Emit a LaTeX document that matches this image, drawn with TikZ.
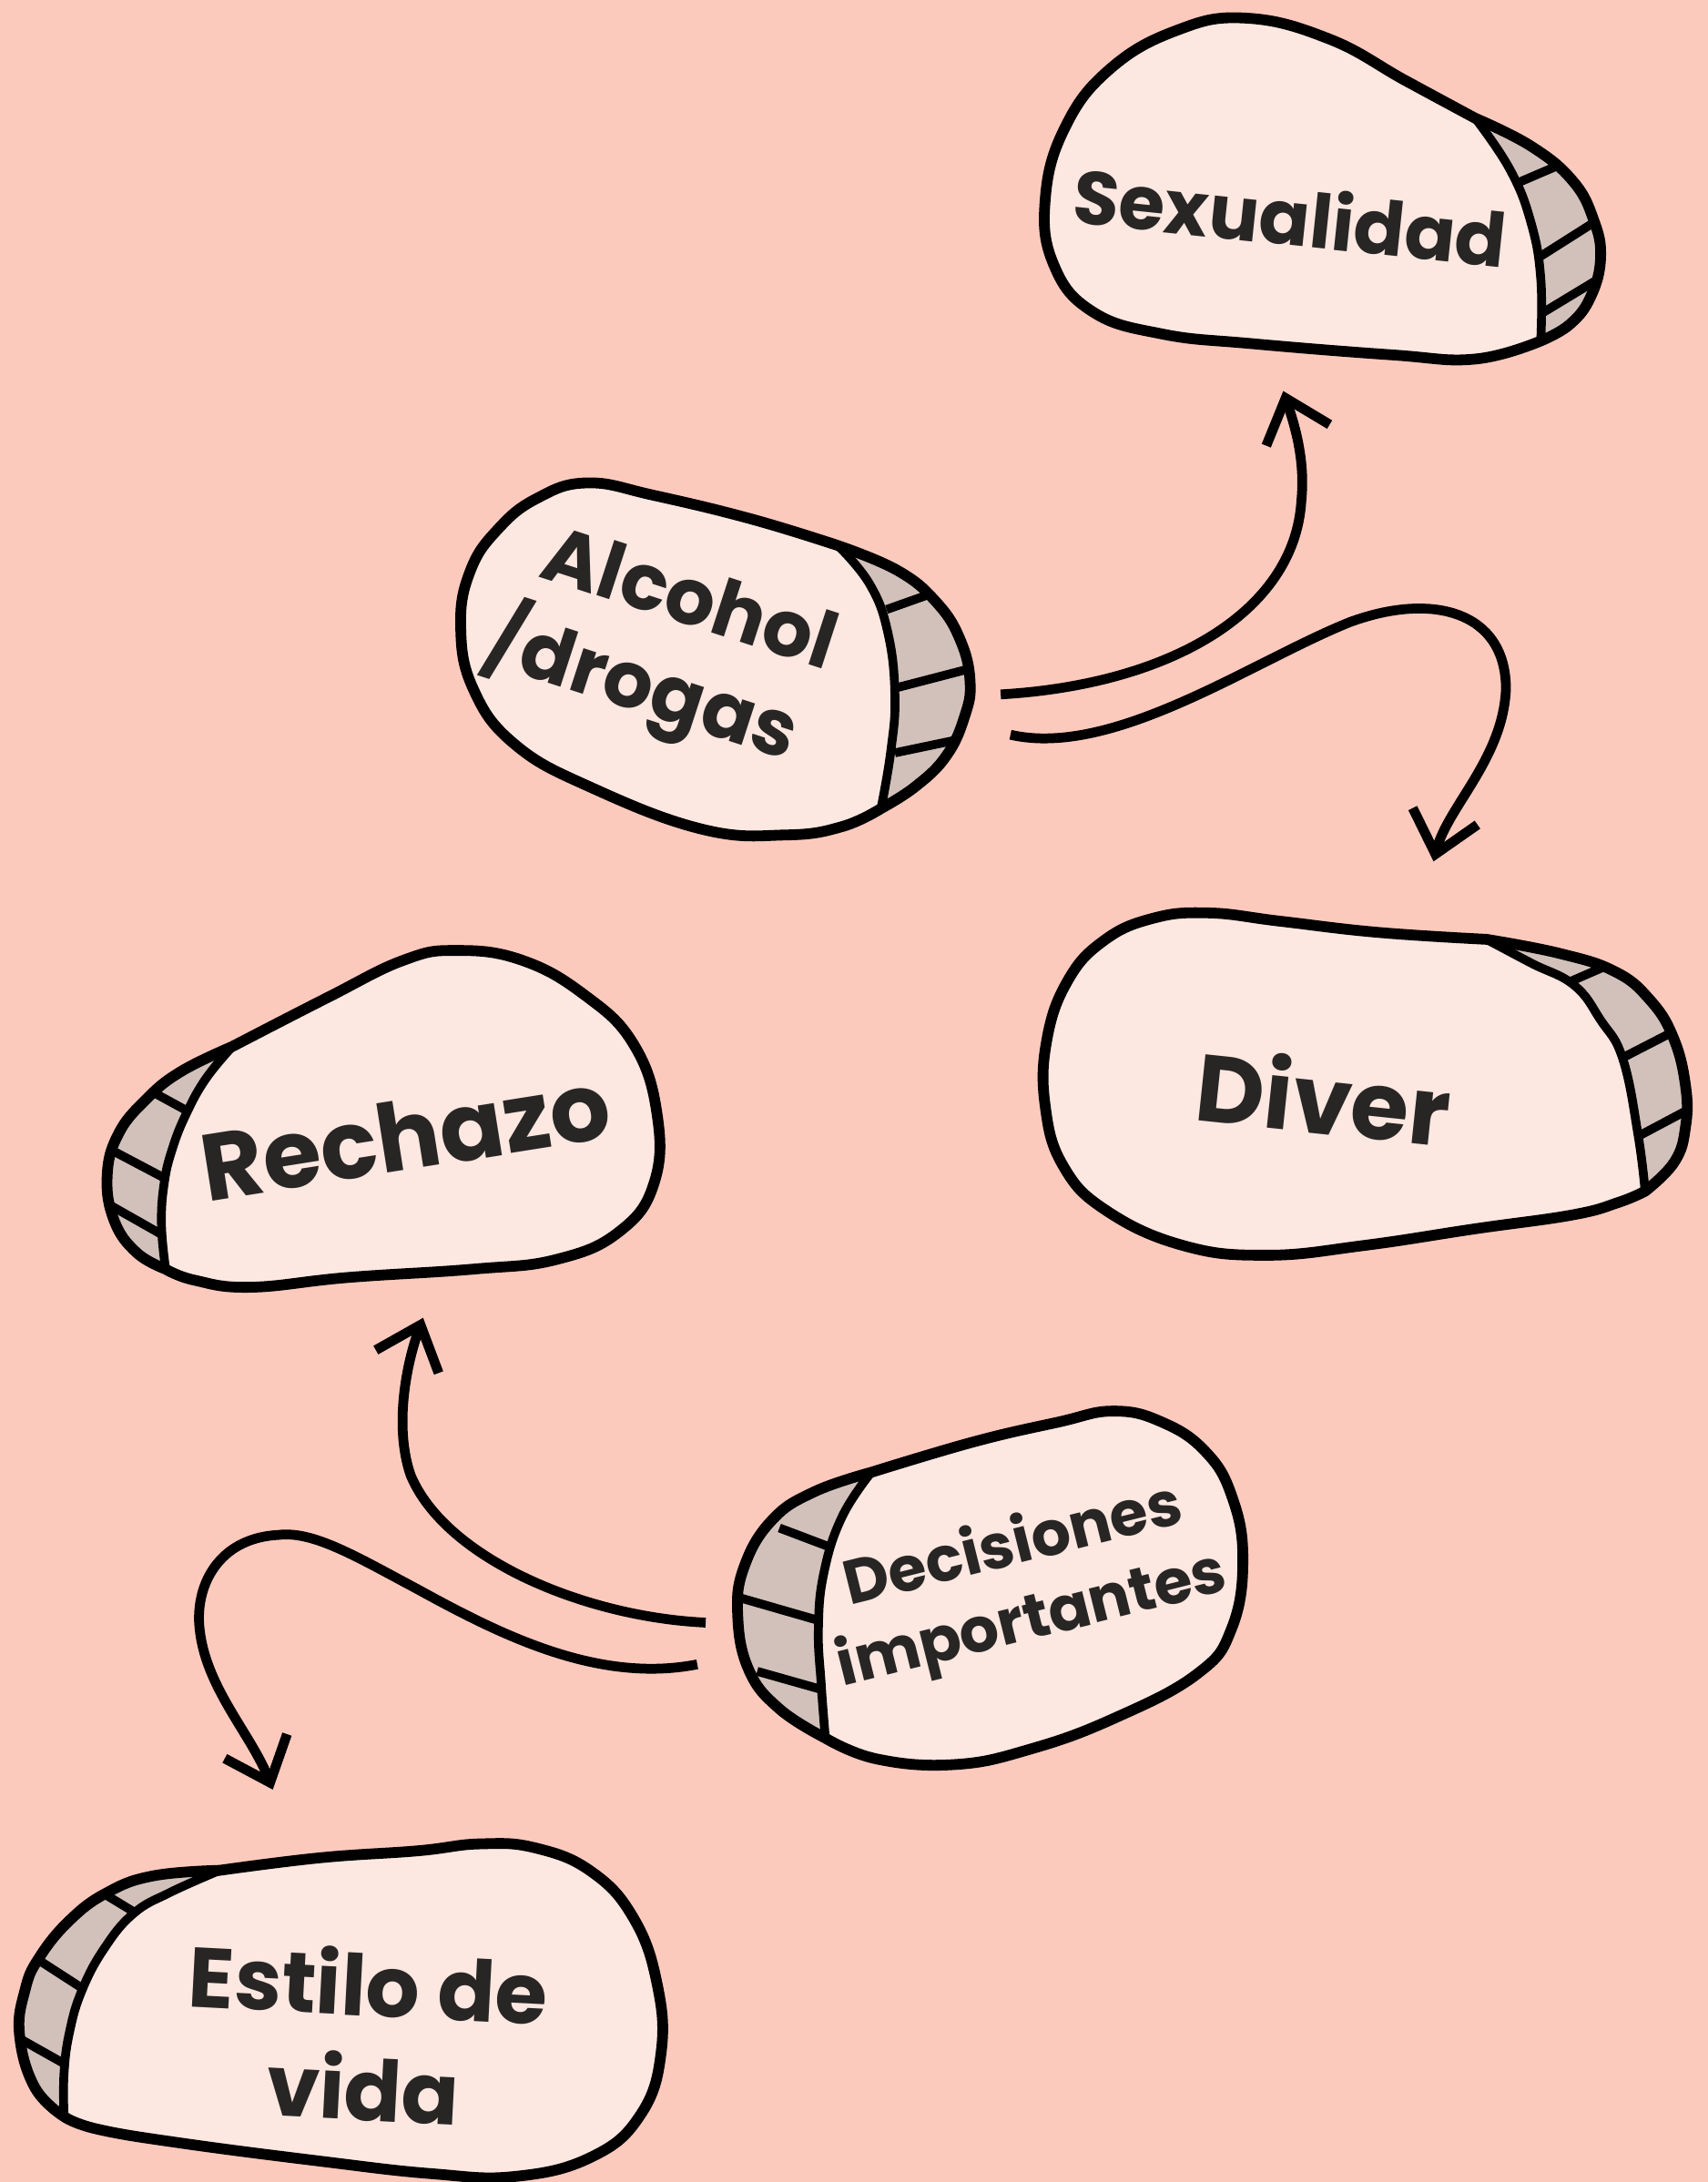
\documentclass[tikz,border=0pt]{standalone}
\usepackage{fontspec}
\setmainfont{Poppins}
\usetikzlibrary{arrows.meta}

\definecolor{bgpink}{HTML}{FCCABD}
\definecolor{cardfill}{HTML}{FCE7E1}
\definecolor{sidefill}{HTML}{D2C1BB}
\definecolor{ink}{HTML}{282624}

% #1 body (J1 to J2), #2 rim side (J2 to J1), #3 seam (J1 to J2), #4 ribs
\newcommand{\bubble}[4]{%
  \fill[cardfill] plot[smooth,tension=0.72] coordinates {#1} -- plot[smooth,tension=0.72] coordinates {#2} -- cycle;
  \fill[sidefill] plot[smooth,tension=0.72] coordinates {#2} -- plot[smooth,tension=0.72] coordinates {#3} -- cycle;
  \foreach \xa/\ya/\xb/\yb in {#4} \draw[seam] (\xa,\ya) -- (\xb,\yb);
  \draw[seam] plot[smooth,tension=0.72] coordinates {#3};
  \draw[rim] plot[smooth,tension=0.72] coordinates {#1} -- plot[smooth,tension=0.72] coordinates {#2} -- cycle;
}

\begin{document}
\begin{tikzpicture}[x=0.015cm,y=-0.015cm,line join=round,
    >={Straight Barb[length=0.42cm,width=0.72cm,sharp]},
    rim/.style={draw=black,line width=3.3pt},
    seam/.style={draw=black,line width=2.7pt},
    word/.style={text=ink,align=center,inner sep=0pt},
    link/.style={draw=black,line width=3pt,->}]

\fill[bgpink] (0,0) rectangle (1227,1568);
\useasboundingbox (0,0) rectangle (1227,1568);

% Sexualidad
\bubble{(1060,85) (1010,58) (955,28) (895,13) (845,22) (797,50) (765,92) (751,143) (757,190) (785,224) (835,240) (900,247) (1000,255) (1060,258) (1107,245)}
  {(1107,245) (1128,233) (1143,213) (1150,185) (1145,158) (1130,130) (1100,105) (1060,85)}
  {(1060,85) (1085,122) (1100,160) (1107,200) (1107,245)}
  {1089/132/1117/120, 1104/186/1145/160, 1108/225/1146/202}
% Alcohol/drogas
\bubble{(602,392) (540,373) (470,356) (422,347) (386,358) (358,380) (338,410) (331,450) (340,495) (370,535) (425,566) (505,596) (565,600) (605,594) (633,581)}
  {(633,581) (658,565) (680,543) (693,515) (697,490) (690,460) (673,433) (645,410) (602,392)}
  {(602,392) (625,420) (638,455) (643,500) (640,540) (633,581)}
  {637/438/668/427, 645/494/695/481, 643/541/686/532}
% Diver
\bubble{(1068,675) (990,670) (920,662) (868,656) (828,660) (793,676) (767,705) (752,748) (751,795) (764,838) (795,870) (850,895) (910,902) (980,895) (1060,883) (1130,873) (1163,864) (1182,856)}
  {(1182,856) (1203,835) (1211,810) (1211,780) (1202,745) (1185,718) (1160,698) (1120,685) (1068,675)}
  {(1068,675) (1100,692) (1131,708) (1150,733) (1166,761) (1177,816) (1182,856)}
  {1129/705/1152/695, 1166/760/1201/742, 1178/816/1210/799}
% Rechazo
\bubble{(167,752) (235,717) (290,690) (328,683) (375,690) (420,715) (455,750) (472,800) (470,850) (445,885) (400,905) (340,912) (250,918) (180,925) (140,920) (119,912)}
  {(119,912) (98,900) (82,877) (77,845) (85,815) (105,790) (130,770) (167,752)}
  {(167,752) (148,775) (134,800) (124,825) (118,850) (116,880) (119,912)}
  {112/786/134/798, 83/828/119/847, 79/866/116/887}
% Decisiones importantes
\bubble{(626,1058) (700,1036) (760,1022) (800,1014) (835,1022) (866,1043) (885,1075) (893,1120) (885,1170) (860,1203) (800,1235) (740,1257) (686,1268) (630,1264) (593,1249)}
  {(593,1249) (560,1228) (538,1200) (530,1160) (535,1125) (555,1092) (585,1072) (626,1058)}
  {(626,1058) (605,1090) (592,1130) (588,1170) (590,1210) (593,1249)}
  {560/1098/597/1112, 531/1148/590/1165, 544/1201/590/1214}
% Estilo de vida
\bubble{(158,1344) (230,1335) (300,1330) (345,1325) (385,1328) (425,1345) (455,1378) (472,1425) (475,1475) (460,1520) (425,1550) (370,1564) (310,1562) (230,1553) (130,1540) (70,1530) (46,1521)}
  {(46,1521) (25,1500) (14,1462) (18,1430) (28,1407) (50,1380) (77,1360) (110,1348) (158,1344)}
  {(158,1344) (122,1360) (96,1375) (75,1400) (59,1430) (50,1460) (46,1490) (46,1521)}
  {75/1361/98/1375, 27/1408/61/1430, 16/1466/48/1484}

\node[word,rotate=-6,font=\fontsize{23}{27}\selectfont\bfseries] (sex) at (927,155) {Sexualidad};
\node[word,rotate=-18,align=left,font=\fontsize{24}{30}\selectfont\bfseries] (alc) at (474,466) {\hspace*{0.35em}Alcohol\\/drogas};
\node[word,rotate=-6,font=\fontsize{29}{34}\selectfont\bfseries] (div) at (951,788) {Diver};
\node[word,rotate=9,font=\fontsize{29}{34}\selectfont\bfseries] (rec) at (291,816) {Rechazo};
\node[word,rotate=14,font=\fontsize{19}{23.5}\selectfont\bfseries] (dec) at (735,1139) {Decisiones\\importantes};
\node[word,rotate=-3,font=\fontsize{26}{32}\selectfont\bfseries] (est) at (263,1462) {Estilo de\\vida};

\coordinate (alc-a) at (719,499);
\coordinate (alc-b) at (726,528);
\coordinate (dec-a) at (507,1166);
\coordinate (dec-b) at (501,1196);
\coordinate (sex-in) at (922,281);
\coordinate (div-in) at (1030,619);
\coordinate (rec-in) at (304,947);
\coordinate (est-in) at (196,1286);

\draw[link] (alc-a) .. controls (840,492) and (930,440) .. (935,360) .. controls (938,330) and (930,305) .. (sex-in);
\draw[link] (alc-b) .. controls (800,545) and (900,475) .. (970,447) .. controls (1030,425) and (1082,440) .. (1082,495) .. controls (1080,545) and (1040,580) .. (div-in);
\draw[link] (dec-a) .. controls (420,1162) and (320,1120) .. (295,1060) .. controls (283,1025) and (292,980) .. (rec-in);
\draw[link] (dec-b) .. controls (430,1210) and (360,1175) .. (300,1142) .. controls (255,1118) and (225,1100) .. (200,1103) .. controls (160,1105) and (142,1135) .. (143,1165) .. controls (145,1210) and (180,1245) .. (est-in);
\end{tikzpicture}
\end{document}
